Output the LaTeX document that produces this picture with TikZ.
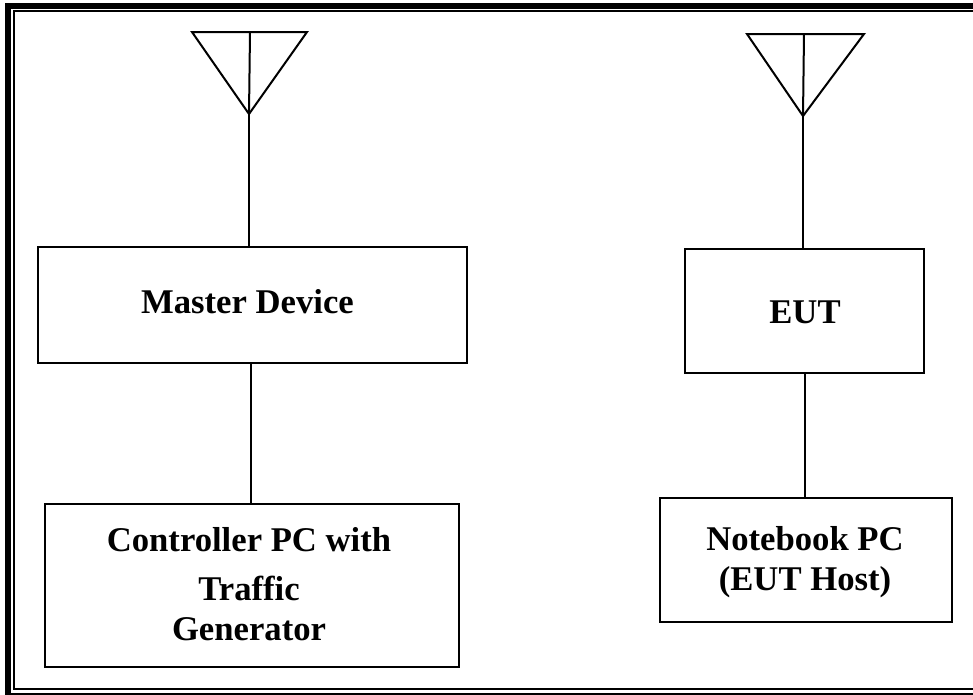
\documentclass[tikz,border=0pt]{standalone}
\usepackage{fontspec}
\setmainfont{Liberation Serif}

\tikzset{
  devbox/.style={draw,line width=1.5pt,inner sep=0pt},
  devtext/.style={font=\bfseries\fontsize{26}{30}\selectfont,align=center,inner sep=0pt},
  wire/.style={line width=1.5pt},
  aerial/.style={line width=1.5pt,line join=miter}
}

\begin{document}
\begin{tikzpicture}[x=0.75pt,y=-0.75pt]
\clip (0,0) rectangle (973,694);

% double frame, open on the right
\draw[line width=4.5pt] (980,6) -- (8,6) -- (8,696) -- (980,696);
\draw[line width=1.5pt] (980,11) -- (14,11) -- (14,688.5) -- (980,688.5);

% boxes
\node[devbox,minimum width=321.75pt,minimum height=87pt] (master) at (252.5,305) {};
\node[devbox,minimum width=310.5pt,minimum height=122.25pt] (controller) at (252,585) {};
\node[devbox,minimum width=179.25pt,minimum height=92.5pt] (eut) at (804.5,311) {};
\node[devbox,minimum width=218.75pt,minimum height=92.5pt] (notebook) at (806,560) {};

% texts
\node[devtext] (mastertext) at (247.5,301.5) {Master Device};
\node[devtext] (controllertext) at (249,584.5) {Controller PC with\\[6.75pt]Traffic\\Generator};
\node[devtext] (euttext) at (805,312.5) {EUT};
\node[devtext] (notebooktext) at (805,562.5) {Notebook PC\\(EUT Host)};

% left aerial
\coordinate (tipl) at (249,114);
\coordinate (tl) at (192,32);
\coordinate (tr) at (307,32);
\coordinate (tm) at (250,32);
\draw[aerial] (tl) -- (tr) -- (tipl) -- cycle;
\draw[wire] (tm) -- (tipl);
\draw[wire] (tipl) -- (tipl |- master.north);

% right aerial
\coordinate (tipr) at (803,116);
\coordinate (rl) at (747,34);
\coordinate (rr) at (864,34);
\coordinate (rm) at (804,34);
\draw[aerial] (rl) -- (rr) -- (tipr) -- cycle;
\draw[wire] (rm) -- (tipr);
\draw[wire] (tipr) -- (tipr |- eut.north);

% links
\draw[wire] ([xshift=-1pt]master.south) -- ([xshift=-1pt]master.south |- controller.north);
\draw[wire] (eut.south) -- (eut.south |- notebook.north);
\end{tikzpicture}
\end{document}
